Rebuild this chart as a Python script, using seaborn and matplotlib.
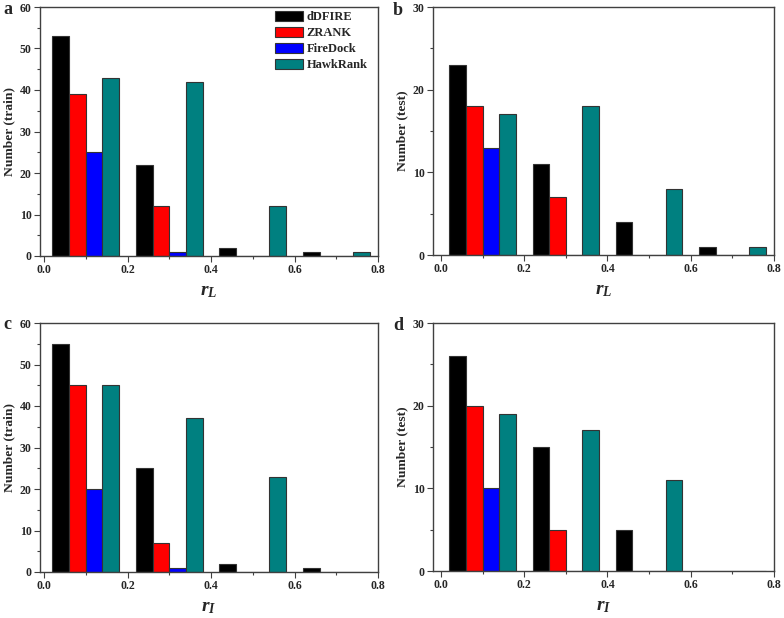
import matplotlib
matplotlib.use("Agg")
import matplotlib.pyplot as plt
import seaborn as sns
import pandas as pd
from matplotlib.ticker import MultipleLocator

# bin centres of r (0-0.2, 0.2-0.4, ...)
bins = [0.1, 0.3, 0.5, 0.7]
methods = ["dDFIRE", "ZRANK", "FireDock", "HawkRank"]
colors = ["#000000", "#ff0000", "#0000ff", "#008080"]

# panel a: r_L, train
a_dDFIRE = [53, 22, 2, 1]
a_ZRANK = [39, 12, 0, 0]
a_FireDock = [25, 1, 0, 0]
a_HawkRank = [43, 42, 12, 1]
# panel b: r_L, test
b_dDFIRE = [23, 11, 4, 1]
b_ZRANK = [18, 7, 0, 0]
b_FireDock = [13, 0, 0, 0]
b_HawkRank = [17, 18, 8, 1]
# panel c: r_I, train
c_dDFIRE = [55, 25, 2, 1]
c_ZRANK = [45, 7, 0, 0]
c_FireDock = [20, 1, 0, 0]
c_HawkRank = [45, 37, 23, 0]
# panel d: r_I, test
d_dDFIRE = [26, 15, 5, 0]
d_ZRANK = [20, 5, 0, 0]
d_FireDock = [10, 0, 0, 0]
d_HawkRank = [19, 17, 11, 0]

sns.set_theme(style="white")
plt.rcParams['font.family'] = ['Liberation Serif', 'DejaVu Serif']
plt.rcParams['font.weight'] = 'bold'
plt.rcParams['mathtext.fontset'] = 'custom'
plt.rcParams['mathtext.it'] = 'Liberation Serif:italic:bold'
plt.rcParams['mathtext.rm'] = 'Liberation Serif:bold'


def long_frame(series):
    rows = []
    for m, vals in zip(methods, series):
        for b, v in zip(bins, vals):
            rows.append({"r": b, "method": m, "count": v})
    return pd.DataFrame(rows)


# letter, data, ylabel, xlabel, ymax, axes rect, xmin, letter position (px)
panels = [
    ("a", [a_dDFIRE, a_ZRANK, a_FireDock, a_HawkRank], "Number (train)", "$r_L$", 60,
     [40 / 784, (618 - 256) / 618, 338 / 784, 249 / 618], -0.0096, (3, 14)),
    ("b", [b_dDFIRE, b_ZRANK, b_FireDock, b_HawkRank], "Number (test)", "$r_L$", 30,
     [433 / 784, (618 - 255) / 618, 341 / 784, 248 / 618], -0.019, (393, 15)),
    ("c", [c_dDFIRE, c_ZRANK, c_FireDock, c_HawkRank], "Number (train)", "$r_I$", 60,
     [40 / 784, (618 - 572) / 618, 338 / 784, 249 / 618], -0.0096, (3, 329)),
    ("d", [d_dDFIRE, d_ZRANK, d_FireDock, d_HawkRank], "Number (test)", "$r_I$", 30,
     [433 / 784, (618 - 571) / 618, 341 / 784, 248 / 618], -0.019, (393, 330)),
]

fig = plt.figure(figsize=(7.84, 6.18), dpi=100)

for letter, series, ylab, xlab, ymax, rect, xmin, lpos in panels:
    ax = fig.add_axes(rect)
    df = long_frame(series)
    sns.barplot(data=df, x="r", y="count", hue="method", hue_order=methods,
                palette=colors, saturation=1, native_scale=True, width=0.8,
                dodge=True, edgecolor="#333333", linewidth=0.8,
                legend=(letter == "a"), errorbar=None, ax=ax)
    ax.set_xlim(xmin, 0.8)
    ax.set_ylim(0, ymax)
    ax.xaxis.set_major_locator(MultipleLocator(0.2))
    ax.xaxis.set_minor_locator(MultipleLocator(0.1))
    ax.yaxis.set_major_locator(MultipleLocator(10))
    ax.yaxis.set_minor_locator(MultipleLocator(5))
    ax.set_xticks([0.0, 0.2, 0.4, 0.6, 0.8])
    ax.set_xticklabels(["0.0", "0.2", "0.4", "0.6", "0.8"])
    ax.tick_params(axis="both", which="major", direction="out", length=4, width=0.8,
                   labelsize=8.5, color="#404040", pad=2)
    ax.tick_params(axis="both", which="minor", direction="out", length=2.5, width=0.8,
                   color="#404040")
    ax.tick_params(bottom=True, left=True, which="both")
    for lab in ax.get_xticklabels() + ax.get_yticklabels():
        lab.set_fontweight("bold")
    for sp in ax.spines.values():
        sp.set_color("#404040")
        sp.set_linewidth(1.0)
    ax.set_ylabel(ylab, fontsize=9.7, fontweight="bold", labelpad=3)
    ax.set_xlabel(xlab, fontsize=14, labelpad=5)
    fig.text(lpos[0] / 784, 1 - lpos[1] / 618, letter, fontsize=13,
             fontweight="bold", va="baseline", ha="left")
    if letter == "a":
        ax.legend(loc="upper right", bbox_to_anchor=(0.98, 1.0), frameon=False,
                  fontsize=9, handlelength=2.2, handleheight=0.9,
                  labelspacing=0.28, handletextpad=0.3,
                  borderaxespad=0.15, borderpad=0.15)

fig.savefig("out.png", dpi=100)
